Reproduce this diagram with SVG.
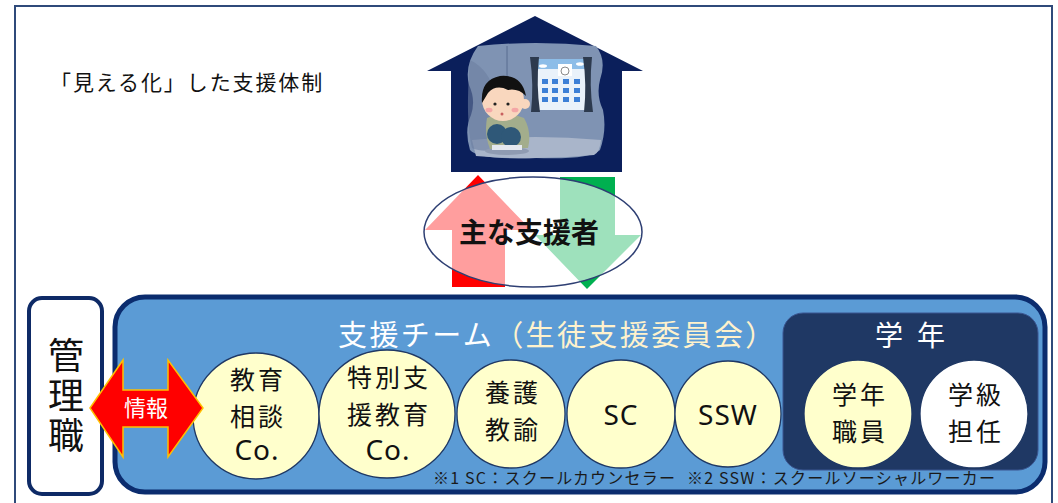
<svg xmlns="http://www.w3.org/2000/svg" width="1058" height="503" viewBox="0 0 1058 503">
  <style>
    .jp { font-family: "Noto Sans CJK JP", "Noto Sans", sans-serif; }
    .circ { fill: #FFFFCC; stroke: #1F3864; stroke-width: 1.3; }
    .ctext { font-family: "Noto Sans CJK JP", "Noto Sans", sans-serif; font-size: 25px; fill: #111; text-anchor: middle; letter-spacing: 3px; }
    .latin { font-family: "Noto Sans", "Noto Sans CJK JP", sans-serif; font-size: 28px; letter-spacing: 1px; }
    .note { font-family: "Noto Sans CJK JP", "Noto Sans", sans-serif; font-size: 16px; fill: #1a1a1a; }
  </style>

  <!-- page frame -->
  <rect x="0" y="0" width="1058" height="503" fill="#FFFFFF"/>
  <path d="M15,503 V6 H1052 V503" fill="none" stroke="#2F4A7A" stroke-width="2"/>

  <!-- heading -->
  <text class="jp" x="50" y="90" font-size="21" fill="#111" letter-spacing="1.9">「見える化」した支援体制</text>

  <!-- house with a child staying at home -->
  <g id="house">
    <polygon points="535,16 427,71 451,71 451,172 622,172 622,71 643,71" fill="#0B1F5B"/>
    <path d="M478,46 Q535,40 596,46 Q607,60 600,80 Q596,95 603,110 Q607,130 600,150 Q590,160 535,158 Q478,160 470,150 Q464,130 471,115 Q476,100 469,85 Q464,65 478,46 Z" fill="#7F93B3"/>
    <path d="M472,140 Q535,134 601,140 Q600,152 594,155 Q535,161 476,156 Z" fill="#A9B5CA"/>
    <path d="M470,60 Q490,70 495,95 L495,150 Q480,152 472,148 Q465,120 470,60 Z" fill="#6C7FA0" opacity="0.6"/>
    <line x1="507" y1="46" x2="507" y2="88" stroke="#5F7396" stroke-width="1.2"/>
    <!-- window -->
    <rect x="536" y="59" width="50" height="51" fill="#EAF2FA"/>
    <rect x="536" y="59" width="50" height="10" fill="#8DBDE8"/>
    <ellipse cx="543" cy="66" rx="4" ry="1.8" fill="#FFFFFF"/>
    <ellipse cx="580" cy="64" rx="4" ry="1.8" fill="#FFFFFF"/>
    <rect x="558" y="64" width="14" height="12" fill="#FFFFFF"/>
    <circle cx="565" cy="71" r="4" fill="#FFFFFF" stroke="#8A8A8A" stroke-width="1"/>
    <g fill="#3C7FD6">
      <rect x="542" y="79" width="6" height="5"/><rect x="552" y="79" width="6" height="5"/><rect x="563" y="79" width="6" height="5"/><rect x="574" y="79" width="6" height="5"/>
      <rect x="542" y="88" width="6" height="5"/><rect x="552" y="88" width="6" height="5"/><rect x="563" y="88" width="6" height="5"/><rect x="574" y="88" width="6" height="5"/>
      <rect x="542" y="97" width="6" height="5"/><rect x="552" y="97" width="6" height="5"/><rect x="563" y="97" width="6" height="5"/><rect x="574" y="97" width="6" height="5"/>
    </g>
    <path d="M530,57 H539 Q536,85 540,112 H531 Q534,85 530,57 Z" fill="#2D3A4E"/>
    <path d="M583,57 H592 Q589,85 593,112 H584 Q587,85 583,57 Z" fill="#2D3A4E"/>
    <!-- child -->
    <ellipse cx="507" cy="151" rx="22" ry="4" fill="#8F9BB2"/>
    <path d="M487,118 Q505,110 524,118 Q532,132 528,148 L490,149 Q484,134 487,118 Z" fill="#A3AD8C"/>
    <circle cx="497" cy="134" r="10" fill="#2F5878"/>
    <circle cx="511" cy="137" r="10" fill="#2F5878"/>
    <path d="M492,145 H522 V150 H492 Z" fill="#E4E8EF"/>
    <circle cx="503" cy="100" r="21" fill="#F9D7BE"/>
    <circle cx="525" cy="104" r="5" fill="#F9D7BE"/>
    <path d="M482,103 Q480,80 500,76 Q522,74 526,96 Q518,88 508,90 Q496,84 488,93 Z" fill="#111111"/>
    <circle cx="495" cy="104" r="1.6" fill="#222"/>
    <circle cx="508" cy="104" r="1.6" fill="#222"/>
    <ellipse cx="489" cy="110" rx="3.5" ry="2.3" fill="#F4A6A6"/>
    <ellipse cx="515" cy="110" rx="3.5" ry="2.3" fill="#F4A6A6"/>
    <circle cx="502" cy="114" r="1.5" fill="#C96060"/>
  </g>

  <!-- two-way arrows between the home and the main supporter -->
  <g id="connectors">
    <polygon points="478,175 531,230 505,230 505,287 452,287 452,230 425,230" fill="#FF0000"/>
    <polygon points="560,177 615,177 615,235 641,235 587,289 535,235 560,235" fill="#00B050"/>
  </g>

  <g id="main-supporter">
    <ellipse cx="533" cy="232" rx="109" ry="55" fill="#FFFFFF" fill-opacity="0.62" stroke="#2E3F73" stroke-width="1.5"/>
    <text class="jp" x="529" y="243" font-size="28" font-weight="bold" fill="#111" text-anchor="middle">主な支援者</text>
  </g>

  <!-- administrators -->
  <g id="admin">
    <rect x="29" y="298" width="73" height="196" rx="13" fill="#FFFFFF" stroke="#0E2A66" stroke-width="4"/>
    <text class="jp" x="66" y="397" font-size="36" fill="#111" text-anchor="middle" writing-mode="vertical-rl" letter-spacing="4">管理職</text>
  </g>

  <!-- support team -->
  <g id="team">
    <rect x="115" y="297" width="930" height="195" rx="30" fill="#5B9BD5" stroke="#0B2C6E" stroke-width="5"/>
    <text class="jp" x="338" y="346" font-size="29" letter-spacing="2.4"><tspan fill="#FFFFFF">支援チーム</tspan><tspan fill="#FFF2CC">（生徒支援委員会）</tspan></text>
  </g>

  <g id="grade">
    <rect x="783" y="313" width="255" height="157" rx="20" fill="#1F3864" stroke="#3A5590" stroke-width="1"/>
    <text class="jp" x="917" y="346" font-size="28" fill="#FFFFFF" text-anchor="middle" letter-spacing="14">学年</text>
  </g>

  <g id="node-kyoiku-sodan">
    <circle class="circ" cx="256" cy="416" r="63"/>
    <text class="ctext"><tspan x="258" y="389">教育</tspan><tspan x="258" y="426">相談</tspan><tspan class="latin" x="257" y="460">Co.</tspan></text>
  </g>

  <g id="node-tokubetsu-shien">
    <ellipse class="circ" cx="387" cy="414" rx="68" ry="64"/>
    <text class="ctext"><tspan x="389" y="387">特別支</tspan><tspan x="389" y="424">援教育</tspan><tspan class="latin" x="388" y="460">Co.</tspan></text>
  </g>

  <g id="node-yogo">
    <circle class="circ" cx="511" cy="414" r="54"/>
    <text class="ctext"><tspan x="513" y="402">養護</tspan><tspan x="513" y="439">教諭</tspan></text>
  </g>

  <g id="node-sc">
    <circle class="circ" cx="621" cy="414" r="54"/>
    <text class="ctext latin" x="621" y="425">SC</text>
  </g>

  <g id="node-ssw">
    <circle class="circ" cx="728" cy="414" r="53"/>
    <text class="ctext latin" x="728" y="425" letter-spacing="2">SSW</text>
  </g>

  <g id="node-gakunen">
    <circle class="circ" cx="858" cy="414" r="54"/>
    <text class="ctext"><tspan x="860" y="404">学年</tspan><tspan x="860" y="441">職員</tspan></text>
  </g>

  <g id="node-gakkyu">
    <circle cx="974" cy="414" r="54" fill="#FFFFFF" stroke="#1F3864" stroke-width="1.3"/>
    <text class="ctext"><tspan x="976" y="404">学級</tspan><tspan x="976" y="441">担任</tspan></text>
  </g>

  <!-- information flow between administrators and team -->
  <g id="info-arrow">
    <polygon points="90,408 123,360 123,390 168,390 168,360 203,408 168,457 168,427 123,427 123,457" fill="#FF0000" stroke="#FFC000" stroke-width="1.5"/>
    <text class="jp" x="146" y="416" font-size="22" fill="#FFFFFF" text-anchor="middle">情報</text>
  </g>

  <!-- footnotes -->
  <text class="note" x="433" y="484" textLength="242" lengthAdjust="spacing">※1 SC：スクールカウンセラー</text>
  <text class="note" x="687" y="484" textLength="308" lengthAdjust="spacing">※2 SSW：スクールソーシャルワーカー</text>
</svg>
